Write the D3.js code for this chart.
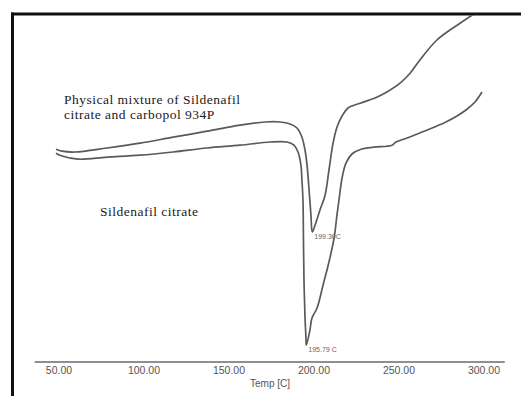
<!DOCTYPE html>
<html>
<head>
<meta charset="utf-8">
<script src="https://cdn.jsdelivr.net/npm/d3@7"></script>
<style>
  html, body { margin: 0; padding: 0; background: #fff; }
  svg { display: block; }
</style>
</head>
<body>
<svg id="chart" width="521" height="396"></svg>
<script>
// DSC thermograms: temperature (°C) vs heat flow (arbitrary units)
const mixtureTemp = [48.5, 52.1, 59.7, 78.5, 97.9, 117.4, 137.4, 156.8, 171.5, 180.3, 186.2, 190.3, 193.2, 195.0, 196.2, 197.4, 198.5, 199.3, 200.9, 203.8, 206.8, 209.1, 211.5, 213.8, 216.8, 220.3, 227.4, 236.2, 243.2, 250.9, 256.8, 262.6, 272.6, 286.2, 294.4];
const mixtureFlow = [53.2, 52.7, 52.5, 53.5, 54.7, 56.2, 57.7, 59.2, 60.0, 60.0, 59.5, 58.5, 56.2, 53.0, 49.2, 43.0, 36.7, 32.5, 34.2, 38.0, 41.7, 48.0, 54.7, 58.7, 61.5, 63.5, 64.7, 66.0, 67.5, 69.7, 72.2, 75.5, 80.5, 84.7, 87.0];

const sildenafilTemp = [48.5, 52.1, 61.5, 78.5, 97.9, 117.4, 137.4, 156.8, 174.4, 184.4, 188.5, 190.9, 192.6, 193.2, 193.8, 194.1, 194.4, 195.0, 195.5, 195.79, 197.9, 199.1, 202.1, 205.6, 209.1, 212.1, 213.8, 215.0, 216.8, 219.1, 222.6, 227.9, 235.6, 246.2, 248.5, 255.0, 262.1, 270.9, 277.9, 284.4, 289.7, 295.0, 299.1];
const sildenafilFlow = [52.2, 51.5, 50.7, 51.2, 51.7, 52.5, 53.5, 54.2, 55.0, 55.0, 54.2, 52.5, 49.2, 45.5, 40.5, 30.5, 20.5, 11.2, 6.7, 4.2, 8.0, 11.0, 13.5, 19.2, 25.0, 31.0, 36.7, 40.5, 46.0, 49.7, 52.0, 53.2, 53.7, 54.2, 55.0, 56.0, 57.2, 58.7, 60.0, 61.5, 63.0, 65.0, 67.5];

const xTicks = [50, 100, 150, 200, 250, 300];
const peakTemps = [199.3, 195.79];
const peakLabels = ["199.30C", "195.79 C"];
const curveNames = ["Physical mixture of Sildenafil", "citrate and carbopol 934P", "Sildenafil citrate"];
const axisTitle = "Temp  [C]";

const svg = d3.select("#chart");

const x = d3.scaleLinear().domain([50, 300]).range([58.5, 483.5]);
const y = d3.scaleLinear().domain([0, 87]).range([362, 14]);

// plot window clip (frame interior)
svg.append("defs").append("clipPath").attr("id", "plotClip")
  .append("rect").attr("x", 14).attr("y", 15.5).attr("width", 507).attr("height", 380);

// baseline axis
const axisG = svg.append("g").attr("transform", `translate(0,${y(0)})`);
axisG.append("line")
  .attr("x1", x(36)).attr("x2", x(312.5))
  .attr("stroke", "#6a6a6a").attr("stroke-width", 1.3);
const axis = d3.axisBottom(x).tickValues(xTicks).tickFormat(d3.format(".2f")).tickSize(0).tickPadding(5);
axisG.call(axis);
axisG.select(".domain").remove();
axisG.selectAll("text")
  .attr("font-family", "Liberation Sans, Arial, sans-serif")
  .attr("font-size", 10.5)
  .attr("fill", "#555");

svg.append("text")
  .attr("x", 270).attr("y", 387)
  .attr("text-anchor", "middle")
  .attr("font-family", "Liberation Sans, Arial, sans-serif")
  .attr("font-size", 10)
  .attr("fill", "#555")
  .text(axisTitle);

// thermogram curves
const line = d3.line()
  .x(d => x(d[0]))
  .y(d => y(d[1]))
  .curve(d3.curveCatmullRom.alpha(0.5));

const series = [
  d3.zip(mixtureTemp, mixtureFlow),
  d3.zip(sildenafilTemp, sildenafilFlow)
];

svg.append("g").attr("clip-path", "url(#plotClip)")
  .selectAll("path").data(series).join("path")
  .attr("d", line)
  .attr("fill", "none")
  .attr("stroke", "#5a5a5a")
  .attr("stroke-width", 1.7)
  .attr("stroke-linejoin", "round");

// peak labels
const peakData = [
  { t: peakTemps[0], v: d3.min(mixtureFlow), label: peakLabels[0] },
  { t: peakTemps[1], v: d3.min(sildenafilFlow), label: peakLabels[1] }
];
svg.selectAll("text.peak").data(peakData).join("text")
  .attr("class", "peak")
  .attr("x", d => x(d.t) + 2)
  .attr("y", d => y(d.v) + 7)
  .attr("font-family", "Liberation Sans, Arial, sans-serif")
  .attr("font-size", 7)
  .attr("fill", "#666")
  .text(d => d.label);

// curve annotations
const serif = "Liberation Serif, Times New Roman, serif";
const notes = [
  { text: curveNames[0], x: 64, y: 104 },
  { text: curveNames[1], x: 64, y: 119 },
  { text: curveNames[2], x: 100, y: 216 }
];
svg.selectAll("text.note").data(notes).join("text")
  .attr("class", "note")
  .attr("x", d => d.x).attr("y", d => d.y)
  .attr("font-family", serif)
  .attr("font-size", 13.5)
  .attr("letter-spacing", 0.5)
  .attr("fill", "#1a1a1a")
  .text(d => d.text);

// frame: heavy top and left edges
svg.append("line").attr("x1", 11).attr("x2", 521).attr("y1", 14).attr("y2", 14)
  .attr("stroke", "#111").attr("stroke-width", 3);
svg.append("line").attr("x1", 12.5).attr("x2", 12.5).attr("y1", 12.5).attr("y2", 396)
  .attr("stroke", "#111").attr("stroke-width", 3);
</script>
</body>
</html>
